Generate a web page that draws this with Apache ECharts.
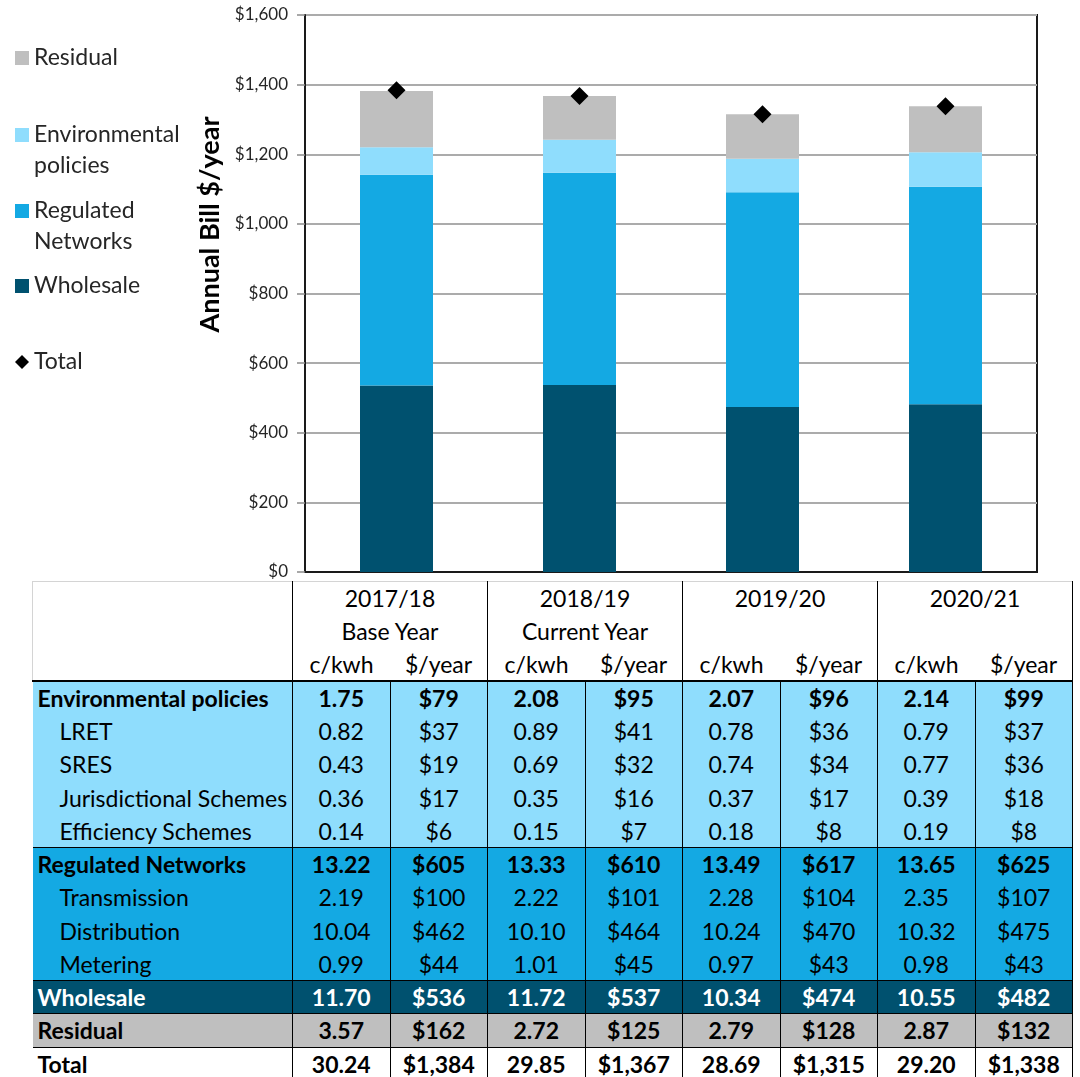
<!DOCTYPE html>
<html>
<head>
<meta charset="utf-8">
<script src="https://cdn.jsdelivr.net/npm/echarts@6/dist/echarts.min.js"></script>
<style>
  html, body { margin: 0; padding: 0; background: #fff; overflow: hidden; }
  #page { position: relative; width: 1080px; height: 1077px; overflow: hidden; }
  #chart { position: absolute; left: 0; top: 0; width: 1080px; height: 581px; }
  #tbl {
    position: absolute; left: 32px; top: 581px;
    border-collapse: collapse; table-layout: fixed; width: 1040px;
    font-family: Lato, "Noto Sans", sans-serif; font-size: 23px; color: #000;
  }
  #tbl tr { height: 33.25px; }
  #tbl td { padding: 0; text-align: center; white-space: nowrap; line-height: 24px; }
  #tbl .hd td { border-top: 1px solid #d4d4d4; }
  #tbl .hd td.grp { border-right: 1.5px solid #000; }
  #tbl td.corner { border-left: 1px solid #d4d4d4; border-top: 1px solid #d4d4d4; border-right: 1.5px solid #000; }
  #tbl tr.first td { border-top: 2px solid #000; }
  #tbl tr.sec td { border-top: 1.5px solid #000; }
  #tbl tr.body td { border-right: 1.5px solid #000; }
  #tbl td.lab { text-align: left; padding-left: 5px; }
  #tbl td.sub { padding-left: 27px; }
  #tbl tr.bold td { font-weight: bold; }
  #tbl tr.env td { background: #8fddfd; }
  #tbl tr.net td { background: #14a9e3; }
  #tbl tr.whl td { background: #00516f; color: #fff; }
  #tbl tr.res td { background: #bfbfbf; }
  #tbl tr.tot td { background: #fff; }
</style>
</head>
<body>
<div id="page">
  <div id="chart"></div>
  <table id="tbl"></table>
</div>
<script>
// 年份和表头
var years = ["2017/18", "2018/19", "2019/20", "2020/21"];
var yearNotes = ["Base Year", "Current Year", "", ""];
var unitLabels = ["c/kwh", "$/year"];
var yTicks = [0, 200, 400, 600, 800, 1000, 1200, 1400, 1600];

// 柱状图数据 ($/year)
var wholesale = [536, 537, 474, 482];
var networks = [605, 610, 617, 625];
var environmental = [79, 95, 96, 99];
var residual = [162, 125, 128, 132];
var total = [1384, 1367, 1315, 1338];

// 表格数据 c/kwh
var envCents = [1.75, 2.08, 2.07, 2.14];
var lretCents = [0.82, 0.89, 0.78, 0.79];
var sresCents = [0.43, 0.69, 0.74, 0.77];
var jurisCents = [0.36, 0.35, 0.37, 0.39];
var effCents = [0.14, 0.15, 0.18, 0.19];
var netCents = [13.22, 13.33, 13.49, 13.65];
var transCents = [2.19, 2.22, 2.28, 2.35];
var distCents = [10.04, 10.10, 10.24, 10.32];
var meterCents = [0.99, 1.01, 0.97, 0.98];
var wholesaleCents = [11.70, 11.72, 10.34, 10.55];
var residualCents = [3.57, 2.72, 2.79, 2.87];
var totalCents = [30.24, 29.85, 28.69, 29.20];

// 表格数据 $/year (子项)
var lret = [37, 41, 36, 37];
var sres = [19, 32, 34, 36];
var juris = [17, 16, 17, 18];
var eff = [6, 7, 8, 8];
var trans = [100, 101, 104, 107];
var dist = [462, 464, 470, 475];
var meter = [44, 45, 43, 43];

function money(v) {
  return "$" + v.toLocaleString("en-US");
}

//拼表格
function buildTable() {
  var rows = [
    ["Environmental policies", envCents, environmental, "env bold first", false],
    ["LRET", lretCents, lret, "env", true],
    ["SRES", sresCents, sres, "env", true],
    ["Jurisdictional Schemes", jurisCents, juris, "env", true],
    ["Efficiency Schemes", effCents, eff, "env", true],
    ["Regulated Networks", netCents, networks, "net bold sec", false],
    ["Transmission", transCents, trans, "net", true],
    ["Distribution", distCents, dist, "net", true],
    ["Metering", meterCents, meter, "net", true],
    ["Wholesale", wholesaleCents, wholesale, "whl bold sec", false],
    ["Residual", residualCents, residual, "res bold sec", false],
    ["Total", totalCents, total, "tot bold sec", false]
  ];
  var html = '<colgroup><col style="width:260px">';
  for (var c = 0; c < 8; c++) html += '<col style="width:97.5px">';
  html += "</colgroup>";
  html += '<tr class="hd"><td class="corner" rowspan="3"></td>';
  for (var i = 0; i < years.length; i++) html += '<td class="grp" colspan="2">' + years[i] + "</td>";
  html += '</tr><tr class="hd2">';
  for (i = 0; i < years.length; i++) html += '<td colspan="2" style="border-right:1.5px solid #000">' + yearNotes[i] + "</td>";
  html += '</tr><tr class="hd3">';
  for (i = 0; i < years.length; i++) {
    html += "<td>" + unitLabels[0] + '</td><td style="border-right:1.5px solid #000">' + unitLabels[1] + "</td>";
  }
  html += "</tr>";
  for (var r = 0; r < rows.length; r++) {
    var row = rows[r];
    html += '<tr class="body ' + row[3] + '"><td class="lab' + (row[4] ? " sub" : "") + '">' + row[0] + "</td>";
    for (i = 0; i < years.length; i++) {
      html += "<td>" + row[1][i].toFixed(2) + "</td><td>" + money(row[2][i]) + "</td>";
    }
    html += "</tr>";
  }
  document.getElementById("tbl").innerHTML = html;
}
buildTable();

var chart = echarts.init(document.getElementById("chart"));
var legendText = { fontFamily: "Lato", fontSize: 23, color: "#262626", lineHeight: 31 };

// 两行的图例：前面加一个空行，让第一行和图标对齐
var legendLines = {
  "Environmental policies": "\nEnvironmental\npolicies",
  "Regulated Networks": "\nRegulated\nNetworks"
};

function oneLegend(name, top) {
  return {
    data: [name],
    left: 15,
    top: top,
    padding: 0,
    itemWidth: 14,
    itemHeight: 14,
    icon: name == "Total" ? "diamond" : "rect",
    selectedMode: false,
    textStyle: legendText,
    formatter: function (n) { return legendLines[n] || n; }
  };
}

chart.setOption({
  animation: false,
  textStyle: { fontFamily: "Lato" },
  legend: [
    oneLegend("Residual", 42.5),
    oneLegend("Environmental policies", 88.5),
    oneLegend("Regulated Networks", 164.5),
    oneLegend("Wholesale", 270.5),
    oneLegend("Total", 346.5)
  ],
  grid: {
    left: 305,
    top: 15,
    width: 732,
    height: 557,
    show: true,
    borderColor: "#1a1a1a",
    borderWidth: 2,
    containLabel: false
  },
  xAxis: {
    type: "category",
    data: years,
    axisLine: { lineStyle: { color: "#1a1a1a", width: 2 } },
    axisTick: { show: false },
    axisLabel: { show: false }
  },
  yAxis: {
    type: "value",
    min: yTicks[0],
    max: yTicks[yTicks.length - 1],
    interval: 200,
    name: "Annual Bill $/year",
    nameLocation: "middle",
    nameRotate: 90,
    nameGap: 77,
    nameTextStyle: {
      fontFamily: "Lato",
      fontSize: 27,
      fontWeight: "bold",
      color: "#000",
      padding: [0, 0, 0, 138]
    },
    axisLine: { show: true, lineStyle: { color: "#1a1a1a", width: 2 } },
    axisTick: { show: true, length: 8, lineStyle: { color: "#8c8c8c", width: 1.5 } },
    axisLabel: {
      fontFamily: "Lato",
      fontSize: 17,
      color: "#262626",
      margin: 17,
      formatter: function (v) { return money(v); }
    },
    splitLine: { lineStyle: { color: "#ababab", width: 2 } }
  },
  series: [
    {
      name: "Wholesale",
      type: "bar",
      stack: "bill",
      barWidth: 73,
      itemStyle: { color: "#00516f" },
      data: wholesale
    },
    {
      name: "Regulated Networks",
      type: "bar",
      stack: "bill",
      itemStyle: { color: "#14a9e3" },
      data: networks
    },
    {
      name: "Environmental policies",
      type: "bar",
      stack: "bill",
      itemStyle: { color: "#8fddfd" },
      data: environmental
    },
    {
      name: "Residual",
      type: "bar",
      stack: "bill",
      itemStyle: { color: "#bfbfbf" },
      data: residual
    },
    {
      name: "Total",
      type: "scatter",
      symbol: "diamond",
      symbolSize: 18,
      z: 5,
      itemStyle: { color: "#000", opacity: 1 },
      data: total
    }
  ]
});
</script>
</body>
</html>
